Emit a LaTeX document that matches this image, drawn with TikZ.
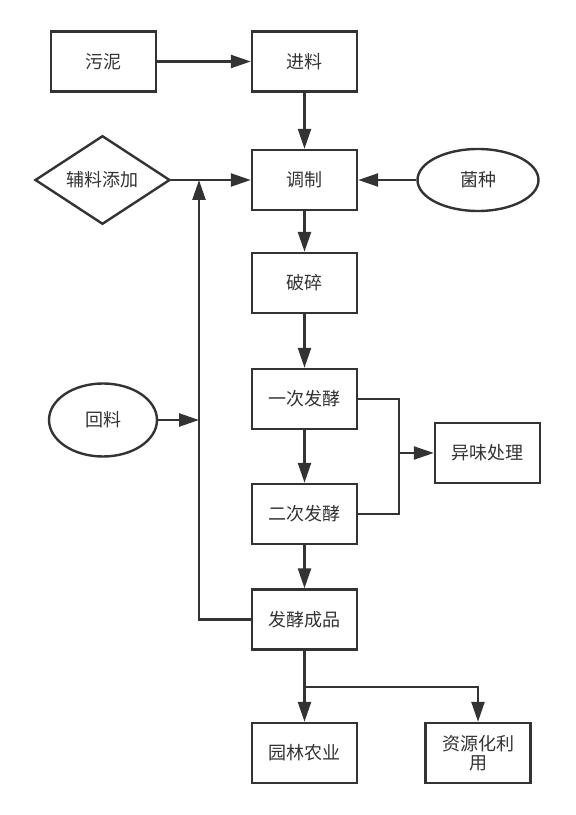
\documentclass[tikz,border=0pt]{standalone}
\usepackage{fontspec}
\newfontfamily\cjk{Noto Sans CJK SC}
\usepackage{tikz}
\usetikzlibrary{arrows.meta}
\usetikzlibrary{shapes.geometric}
\definecolor{ink}{HTML}{333333}
\tikzstyle{box}=[rectangle, draw=ink, line width=2.4pt, minimum width=105pt, minimum height=60pt, inner sep=0pt, text=ink, font=\cjk\fontsize{18pt}{19pt}\selectfont]
\tikzstyle{oval}=[ellipse, draw=ink, line width=2.4pt, inner sep=0pt, text=ink, font=\cjk\fontsize{18pt}{19pt}\selectfont]
\tikzstyle{choice}=[diamond, draw=ink, line width=2.4pt, minimum width=135pt, minimum height=74pt, inner sep=0pt, text=ink, font=\cjk\fontsize{18pt}{19pt}\selectfont]
\tikzstyle{flow}=[draw=ink, line width=2.4pt, -{Triangle[length=20pt, width=13pt]}]
\tikzstyle{wire}=[draw=ink, line width=2.4pt]

\begin{document}
\begin{tikzpicture}[x=1pt, y=1pt]

      \useasboundingbox (0,0) rectangle (576,815);

      \node[box] (sludge) at (103.5,753.5) {污泥};
      \node[box] (feed) at (304.5,753.5) {进料};
      \node[box] (mix) at (304.5,635) {调制};
      \node[choice] (additive) at (102.5,635) {辅料添加};
      \node[oval, minimum width=121pt, minimum height=62pt] (inoc) at (478,635) {菌种};
      \node[box] (crush) at (304.5,532) {破碎};
      \node[box] (ferm1) at (304.5,416) {一次发酵};
      \node[box] (ferm2) at (304.5,301) {二次发酵};
      \node[box] (odor) at (487.5,362) {异味处理};
      \node[oval, minimum width=108pt, minimum height=73pt] (return) at (103,395) {回料};
      \node[box] (product) at (304.5,195.5) {发酵成品};
      \node[box] (garden) at (304.5,62) {园林农业};
      \node[box, align=center] (reuse) at (478,62) {资源化利\\用};

      \coordinate (mixjoin) at (199,635);
      \coordinate (retjoin) at (199,395);
      \coordinate (odorjoin) at (399,362);
      \coordinate (branch) at (304.5,128);

      \draw[flow] (sludge) -- (feed);
      \draw[flow] (feed) -- (mix);
      \draw[flow] (additive) -- (mix);
      \draw[flow] (inoc) -- (mix);
      \draw[flow] (mix) -- (crush);
      \draw[flow] (crush) -- (ferm1);
      \draw[flow] (ferm1) -- (ferm2);
      \draw[flow] (ferm2) -- (product);
      \draw[wire] (ferm1.east) -| (odorjoin);
      \draw[wire] (ferm2.east) -| (odorjoin);
      \draw[flow] (odorjoin) -- (odor);
      \draw[flow] (product.west) -| (mixjoin);
      \draw[flow] (return) -- (retjoin);
      \draw[flow] (product) -- (garden);
      \draw[flow] (branch) -| (reuse.north);

    \end{tikzpicture}
\end{document}
